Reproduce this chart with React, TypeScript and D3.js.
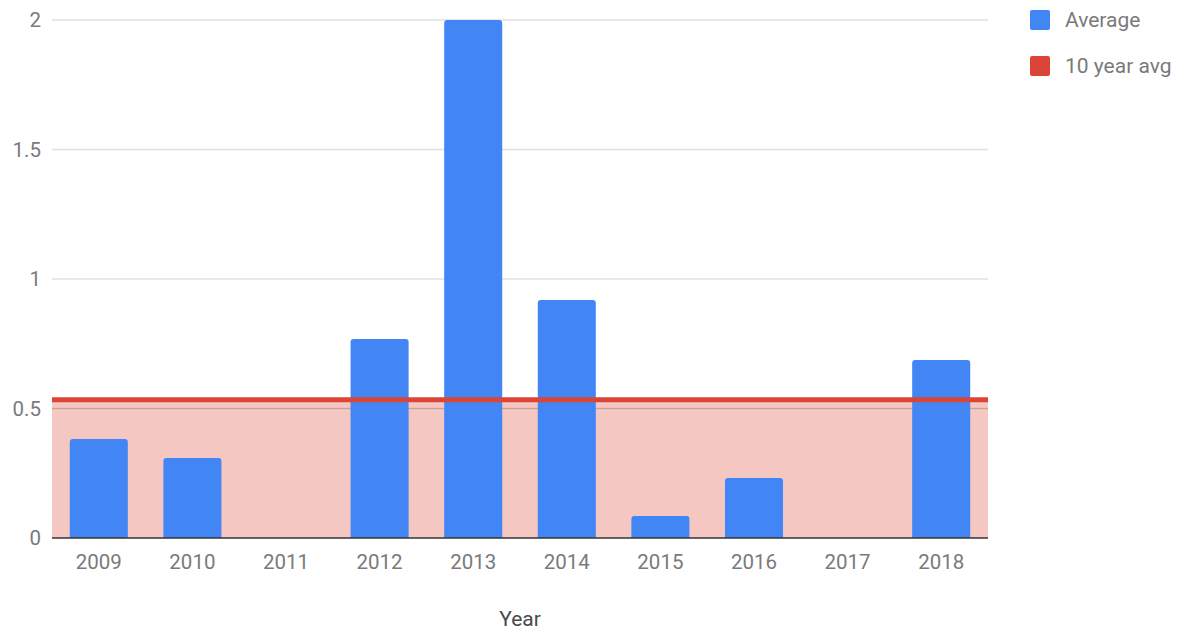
import React from 'react';
import * as d3 from 'd3';

const years = ['2009', '2010', '2011', '2012', '2013', '2014', '2015', '2016', '2017', '2018'];
const averages = [0.382, 0.309, 0, 0.768, 2.0, 0.919, 0.085, 0.232, 0, 0.687];
const tenYearAvg = 0.534;
const yTicks = [0, 0.5, 1, 1.5, 2];
const legendItems = [
  { label: 'Average', color: '#4285F4' },
  { label: '10 year avg', color: '#DB4437' },
];

const W = 1185;
const H = 635;
const margin = { top: 20, right: 197, bottom: 97, left: 52 };

const App: React.FC = () => {
  const innerW = W - margin.left - margin.right;
  const innerH = H - margin.top - margin.bottom;

  const x = d3.scaleBand().domain(years).range([0, innerW]).paddingInner(0.38).paddingOuter(0.19);
  const y = d3.scaleLinear().domain([0, 2]).range([innerH, 0]);

  const font = 'Roboto, Arial, sans-serif';
  const r = 3;

  const barPath = (xs: number, w: number, top: number, bottom: number) => {
    const rr = Math.min(r, (bottom - top) / 2);
    return `M${xs},${bottom}V${top + rr}Q${xs},${top} ${xs + rr},${top}H${xs + w - rr}Q${xs + w},${top} ${xs + w},${top + rr}V${bottom}Z`;
  };

  return (
    <svg width={W} height={H} style={{ position: 'absolute', left: 0, top: 0, fontFamily: font }}>
      <rect width={W} height={H} fill="#fff" />
      <g transform={`translate(${margin.left},${margin.top})`}>
        {yTicks.map(t => (
          <g key={t}>
            {t !== 0 && <line x1={0} x2={innerW} y1={y(t)} y2={y(t)} stroke="#e0e0e0" strokeWidth={1.5} />}
            <text x={-11} y={y(t)} dy="0.35em" textAnchor="end" fontSize={20.5} fill="#7a7a7a">{t}</text>
          </g>
        ))}
        {/* shaded area below the 10 year average */}
        <rect x={0} y={y(tenYearAvg)} width={innerW} height={innerH - y(tenYearAvg)} fill="#DB4437" fillOpacity={0.3} />
        <line x1={0} x2={innerW} y1={y(0.5)} y2={y(0.5)} stroke="#c9a09c" strokeWidth={1} />
        {years.map((yr, i) => averages[i] > 0 && (
          <path key={yr} d={barPath(x(yr)!, x.bandwidth(), y(averages[i]), y(0))} fill="#4285F4" />
        ))}
        <line x1={0} x2={innerW} y1={y(tenYearAvg)} y2={y(tenYearAvg)} stroke="#DB4437" strokeWidth={5} />
        <line x1={0} x2={innerW} y1={y(0)} y2={y(0)} stroke="#333" strokeWidth={1.5} />
        {years.map(yr => (
          <text key={yr} x={x(yr)! + x.bandwidth() / 2} y={innerH + 31} textAnchor="middle" fontSize={20.5} fill="#7a7a7a">{yr}</text>
        ))}
        <text x={innerW / 2} y={innerH + 88} textAnchor="middle" fontSize={21} fill="#4a4a4a">Year</text>
      </g>
      <g transform="translate(1030,10)">
        {legendItems.map((d, i) => (
          <g key={d.label} transform={`translate(0,${i * 46})`}>
            <rect width={20} height={20} rx={2} fill={d.color} />
            <text x={35} y={10} dy="0.35em" fontSize={21} fill="#7a7a7a">{d.label}</text>
          </g>
        ))}
      </g>
    </svg>
  );
};

export default App;
